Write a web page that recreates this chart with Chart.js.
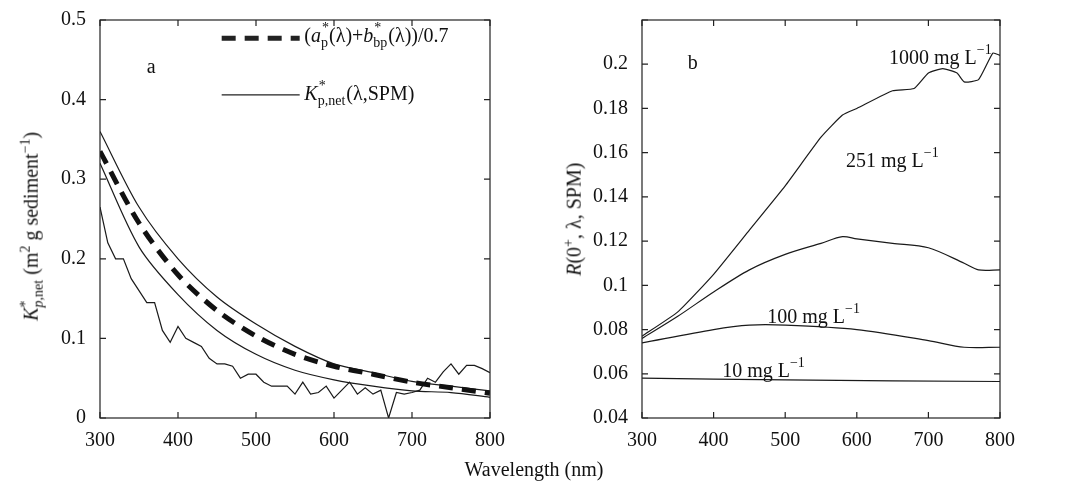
<!DOCTYPE html>
<html><head><meta charset="utf-8">
<script src="https://cdn.jsdelivr.net/npm/chart.js@4"></script>
<style>
body{margin:0;background:#fff;width:1068px;height:488px;overflow:hidden;position:relative;font-family:"Liberation Serif","DejaVu Serif",serif;}
canvas{position:absolute;left:0;top:0;}
.t{position:absolute;font-size:20px;color:#111;white-space:nowrap;}
sup,sub{font-size:14px;}
</style></head><body>
<canvas id="ca" width="1068" height="488"></canvas>
<canvas id="cb" width="1068" height="488"></canvas>
<div class="t" style="left:0;right:0;text-align:center;top:458px;">Wavelength (nm)</div>
<div class="t" style="left:-108px;top:212px;width:280px;text-align:center;transform:rotate(-90deg);"><i>K</i><sup>*</sup><sub style="margin-left:-7px"><i>p</i>,net</sub> (m<sup>2</sup> g sediment<sup>−1</sup>)</div>
<div class="t" style="left:453px;top:207px;width:240px;text-align:center;transform:rotate(-90deg);"><i>R</i>(0<sup>+</sup>, λ, SPM)</div>
<script>
const wlA=[300,350,400,450,500,550,600,650,700,750,800];
const dashedA=[0.335,0.245,0.18,0.135,0.103,0.08,0.065,0.055,0.045,0.038,0.031];
const upperA=[0.36,0.265,0.2,0.152,0.118,0.09,0.068,0.057,0.046,0.04,0.034];
const middleA=[0.32,0.215,0.155,0.11,0.08,0.06,0.048,0.04,0.034,0.032,0.026];
const wlNoisy=[];for(let w=300;w<=800;w+=10)wlNoisy.push(w);
const noisyA=[0.265,0.22,0.2,0.2,0.175,0.16,0.145,0.145,0.11,0.095,0.115,0.1,0.095,0.09,0.075,0.068,0.068,0.065,0.05,0.055,0.055,0.045,0.04,0.04,0.04,0.03,0.045,0.03,0.032,0.04,0.025,0.035,0.045,0.03,0.038,0.03,0.035,0.0,0.032,0.03,0.032,0.035,0.05,0.045,0.058,0.068,0.055,0.066,0.066,0.062,0.057];
const wlB1000=[300,350,400,450,500,550,580,600,650,680,700,720,740,750,770,790,800];
const r1000=[0.077,0.088,0.105,0.125,0.145,0.167,0.177,0.18,0.188,0.189,0.196,0.198,0.196,0.192,0.193,0.205,0.204];
const wlB251=[300,350,400,450,500,550,580,600,650,700,750,770,800];
const r251=[0.076,0.086,0.097,0.107,0.114,0.119,0.122,0.121,0.119,0.117,0.11,0.107,0.107];
const wlB100=[300,400,450,500,600,700,750,800];
const r100=[0.074,0.08,0.082,0.082,0.08,0.075,0.072,0.072];
const wlB10=[300,500,800];
const r10=[0.058,0.0572,0.0565];
const xTicks=[300,400,500,600,700,800];
const FONT='"Liberation Serif","DejaVu Serif",serif';

function pts(x,y){return x.map((v,i)=>({x:v,y:y[i]}));}
function drawRich(ctx,x,y,segs,size){
  let cx=x;
  const sm=size*0.7;
  for(const s of segs){
    if(s[1]==='ss'){ // stacked: s[0]=sub, s[2]=sup
      ctx.font=sm+'px '+FONT;
      ctx.fillText(s[0],cx,y+size*0.32);
      ctx.fillText(s[2],cx+1,y-size*0.42);
      cx+=Math.max(ctx.measureText(s[0]).width,ctx.measureText(s[2]).width)+1;
      continue;
    }
    const [t,m]=s;
    const small=m==='sup'||m==='sub';
    ctx.font=(m==='i'?'italic ':'')+(small?sm:size)+'px '+FONT;
    const dy=m==='sup'?-size*0.42:m==='sub'?size*0.32:0;
    ctx.fillText(t,cx,y+dy);
    cx+=ctx.measureText(t).width;
  }
}
const frame={id:'frame',afterDraw(c){
  const ctx=c.ctx,a=c.chartArea;ctx.save();ctx.strokeStyle='#222';ctx.lineWidth=1.2;
  ctx.strokeRect(a.left,a.top,a.right-a.left,a.bottom-a.top);
  const xs=c.scales.x,ys=c.scales.y;
  ctx.beginPath();
  xs.ticks.forEach(t=>{const p=xs.getPixelForValue(t.value);ctx.moveTo(p,a.bottom);ctx.lineTo(p,a.bottom-6);ctx.moveTo(p,a.top);ctx.lineTo(p,a.top+6);});
  ys.ticks.forEach(t=>{const p=ys.getPixelForValue(t.value);ctx.moveTo(a.left,p);ctx.lineTo(a.left+6,p);ctx.moveTo(a.right,p);ctx.lineTo(a.right-6,p);});
  ctx.stroke();
  ctx.fillStyle='#111';ctx.textBaseline='middle';
  (c.options.plugins.frame.labels||[]).forEach(l=>{drawRich(ctx,xs.getPixelForValue(l.x),ys.getPixelForValue(l.y),l.segs,20);});
  (c.options.plugins.frame.lines||[]).forEach(l=>{ctx.beginPath();ctx.lineWidth=l.w;ctx.setLineDash(l.dash||[]);
    ctx.moveTo(xs.getPixelForValue(l.x0),ys.getPixelForValue(l.y));ctx.lineTo(xs.getPixelForValue(l.x1),ys.getPixelForValue(l.y));ctx.stroke();});
  ctx.restore();
}};
function mk(id,datasets,ymin,ymax,ystep,pad,yw,yfmt,extra){
  return new Chart(document.getElementById(id),{type:'line',data:{datasets},
  plugins:[frame],
  options:{responsive:false,animation:false,devicePixelRatio:1,layout:{padding:pad},
   elements:{point:{radius:0},line:{tension:0.3,borderColor:'#1a1a1a',borderWidth:1.2}},
   plugins:{legend:{display:false},tooltip:{enabled:false},frame:extra},
   scales:{
    x:{type:'linear',min:300,max:800,afterBuildTicks:s=>{s.ticks=xTicks.map(v=>({value:v}));},
       grid:{display:false},border:{display:false},ticks:{color:'#111',font:{family:FONT,size:20},padding:3},
       afterFit:s=>{s.height=30;}},
    y:{min:ymin,max:ymax,grid:{display:false},border:{display:false},
       ticks:{stepSize:ystep,color:'#111',font:{family:FONT,size:20},padding:6,callback:yfmt},
       afterFit:s=>{s.width=yw;}}
   }}});
}
mk('ca',[
 {data:pts(wlA,dashedA),borderWidth:5,borderDash:[14,9],borderColor:'#111'},
 {data:pts(wlA,upperA)},{data:pts(wlA,middleA)},
 {data:pts(wlNoisy,noisyA),tension:0}
],0,0.5,0.1,{left:60,right:578,top:20,bottom:40},40,v=>v===0?'0':String(+v.toFixed(2)),
{labels:[
 {x:360,y:0.44,segs:[['a','n']]},
 {x:562,y:0.479,segs:[['(','n'],['a','i'],['p','ss','*'],['(λ)+','n'],['b','i'],['bp','ss','*'],['(λ))/0.7','n']]},
 {x:562,y:0.406,segs:[['K','i'],['p,net','ss','*'],['(λ,SPM)','n']]}
],lines:[{x0:456,x1:556,y:0.477,w:5,dash:[14,9]},{x0:456,x1:556,y:0.406,w:1.2}]});
mk('cb',[
 {data:pts(wlB1000,r1000),tension:0.15},{data:pts(wlB251,r251)},{data:pts(wlB100,r100)},{data:pts(wlB10,r10)}
],0.04,0.22,0.02,{left:592,right:68,top:20,bottom:40},50,v=>Math.abs(v-0.22)<1e-6?'':String(+v.toFixed(2)),
{labels:[
 {x:364,y:0.2,segs:[['b','n']]},
 {x:645,y:0.2027,segs:[['1000 mg L','n'],['−1','sup']]},
 {x:585,y:0.156,segs:[['251 mg L','n'],['−1','sup']]},
 {x:475,y:0.0855,segs:[['100 mg L','n'],['−1','sup']]},
 {x:412,y:0.061,segs:[['10 mg L','n'],['−1','sup']]}
]});
</script></body></html>
